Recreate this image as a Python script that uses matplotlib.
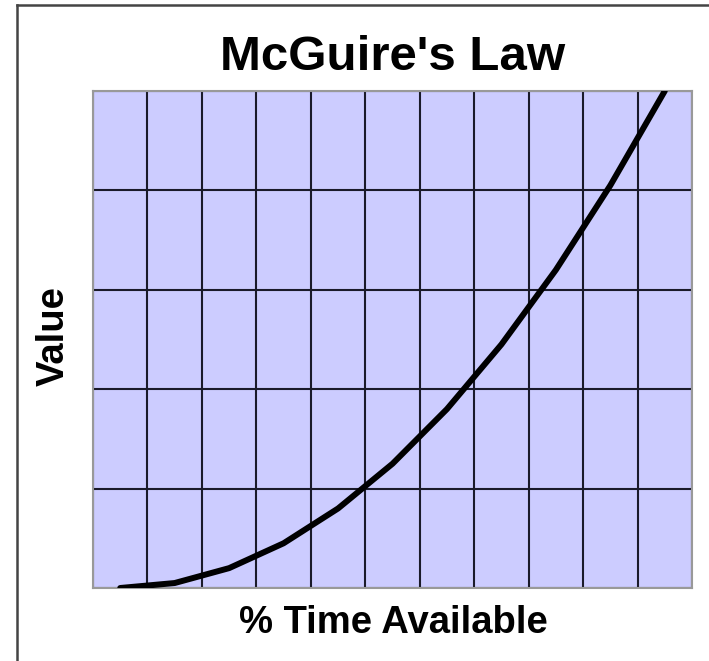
import numpy as np
import matplotlib.pyplot as plt
from matplotlib.lines import Line2D

# data: 11 time buckets, value rising steeply
buckets = ['0', '10', '20', '30', '40', '50', '60', '70', '80', '90', '100']
values = [0, 1, 4, 9, 16, 25, 36, 49, 64, 81, 100]

plt.rcParams['font.family'] = ['Liberation Sans', 'DejaVu Sans']

fig = plt.figure(figsize=(7.09, 6.61), dpi=100)
ax = fig.add_axes([93 / 709, 1 - 588 / 661, 599 / 709, 497 / 661])
ax.set_facecolor('#ccccff')

x = np.arange(len(buckets))
ax.plot(x, values, color='black', linewidth=4.3, solid_capstyle='round',
        solid_joinstyle='round', zorder=3)

ax.set_xlim(-0.5, len(buckets) - 0.5)
ax.set_ylim(0, 100)
ax.set_xticks(np.arange(len(buckets) + 1) - 0.5)
ax.set_yticks(np.arange(0, 101, 20))
ax.grid(True, color='#1a1a2a', linewidth=1.5)
ax.tick_params(length=0, labelbottom=False, labelleft=False)
for s in ax.spines.values():
    s.set_color('#999999')
    s.set_linewidth(1.5)

fig.text(392.5 / 709, 1 - 70 / 661, "McGuire's Law", ha='center', va='baseline',
         fontsize=35.5, fontweight='bold')
fig.text(393.5 / 709, 1 - 633 / 661, '% Time Available', ha='center', va='baseline',
         fontsize=27.5, fontweight='bold')
fig.text(54 / 709, 1 - 336 / 661, 'Value', ha='center', va='center', rotation=90,
         fontsize=27.5, fontweight='bold')

# cropped frame: only top and left edges show
fig.add_artist(Line2D([17 / 709, 1], [1 - 5 / 661, 1 - 5 / 661], color='#444444', linewidth=1.8))
fig.add_artist(Line2D([17 / 709, 17 / 709], [0, 1 - 5 / 661], color='#444444', linewidth=1.8))

fig.savefig('out.png', dpi=100)
